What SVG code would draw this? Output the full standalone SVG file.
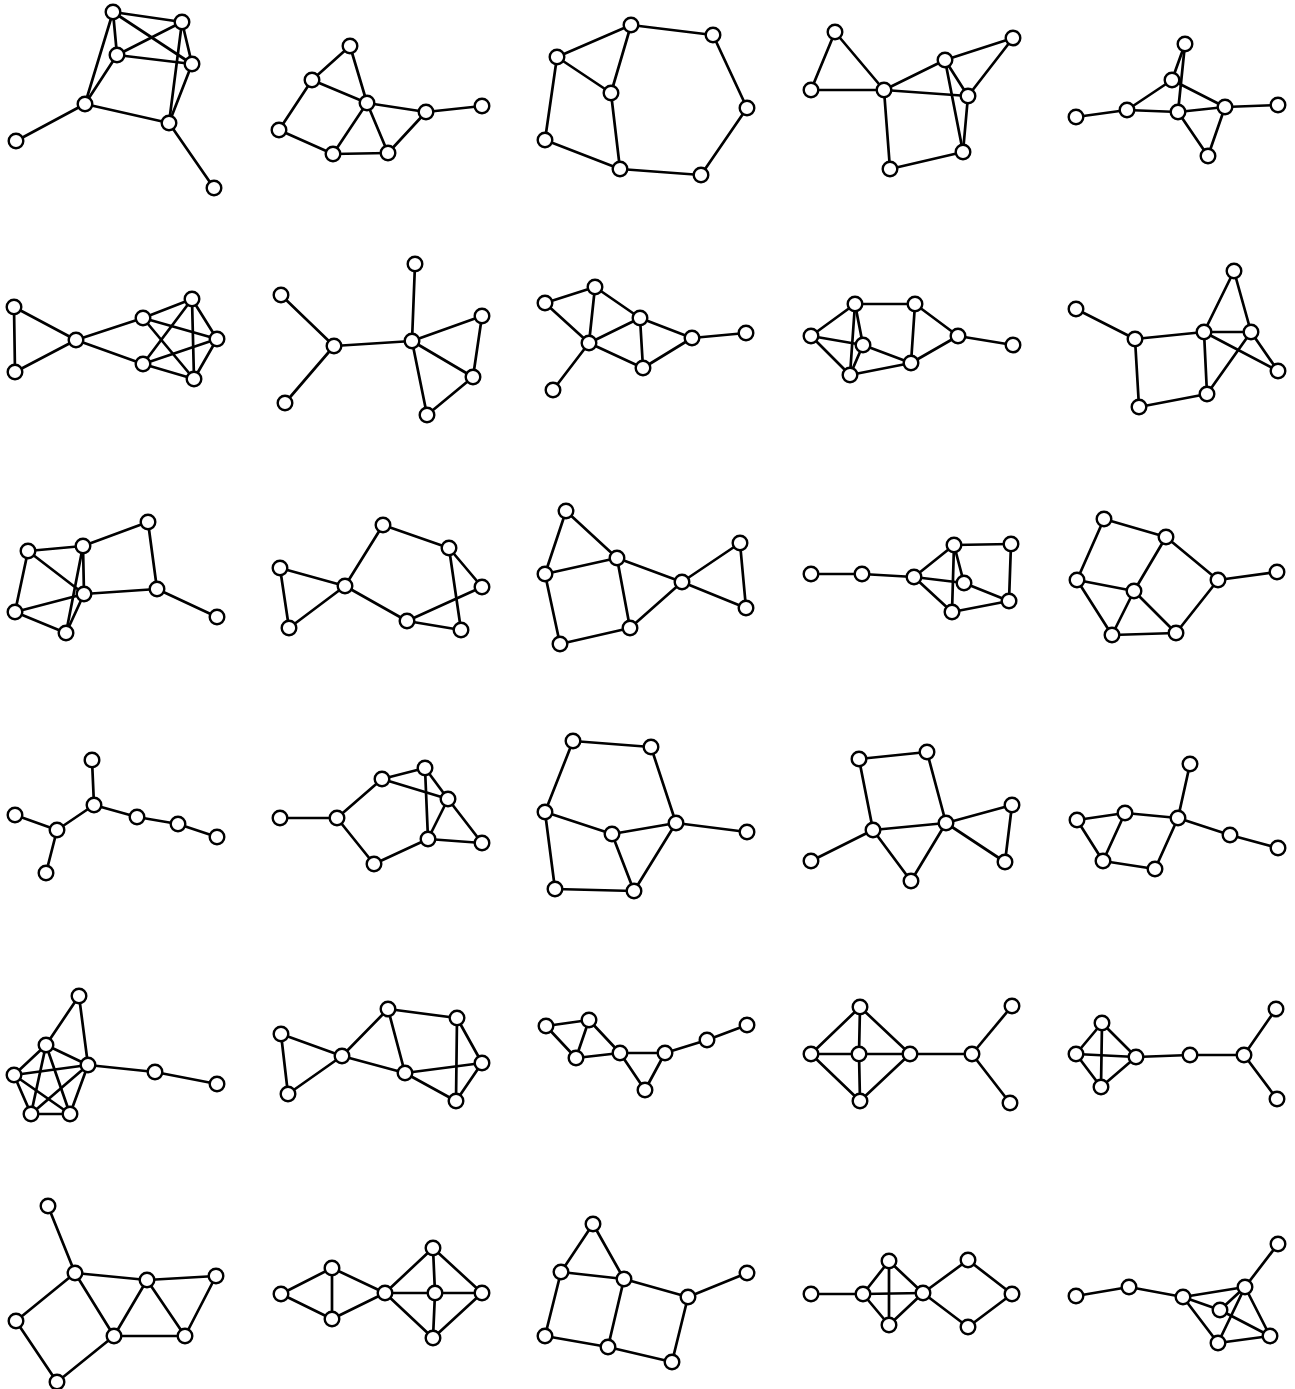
<svg xmlns="http://www.w3.org/2000/svg" width="1295" height="1389" viewBox="0 0 1295 1389">
<style>
.e line{stroke:#000;stroke-width:2.7;stroke-linecap:round}
circle{fill:#fff;stroke:#000;stroke-width:2.4}
</style>
<rect width="1295" height="1389" fill="#fff"/>
<g id="connectors" class="e">
<line x1="113" y1="12" x2="182" y2="22"/><line x1="113" y1="12" x2="117" y2="55"/><line x1="113" y1="12" x2="192" y2="64"/><line x1="113" y1="12" x2="85" y2="104"/><line x1="182" y1="22" x2="117" y2="55"/><line x1="182" y1="22" x2="192" y2="64"/><line x1="182" y1="22" x2="169" y2="123"/><line x1="117" y1="55" x2="192" y2="64"/><line x1="117" y1="55" x2="85" y2="104"/><line x1="85" y1="104" x2="169" y2="123"/><line x1="192" y1="64" x2="169" y2="123"/><line x1="85" y1="104" x2="16" y2="141"/><line x1="169" y1="123" x2="214" y2="188"/>
<line x1="350" y1="46" x2="312" y2="80"/><line x1="350" y1="46" x2="367" y2="103"/><line x1="312" y1="80" x2="367" y2="103"/><line x1="312" y1="80" x2="279" y2="130"/><line x1="279" y1="130" x2="333" y2="154"/><line x1="333" y1="154" x2="388" y2="153"/><line x1="333" y1="154" x2="367" y2="103"/><line x1="367" y1="103" x2="388" y2="153"/><line x1="367" y1="103" x2="426" y2="112"/><line x1="388" y1="153" x2="426" y2="112"/><line x1="426" y1="112" x2="482" y2="106"/>
<line x1="631" y1="25" x2="713" y2="35"/><line x1="631" y1="25" x2="557" y2="57"/><line x1="631" y1="25" x2="611" y2="93"/><line x1="557" y1="57" x2="611" y2="93"/><line x1="557" y1="57" x2="545" y2="140"/><line x1="545" y1="140" x2="620" y2="169"/><line x1="611" y1="93" x2="620" y2="169"/><line x1="620" y1="169" x2="701" y2="175"/><line x1="701" y1="175" x2="747" y2="108"/><line x1="747" y1="108" x2="713" y2="35"/>
<line x1="835" y1="32" x2="811" y2="90"/><line x1="835" y1="32" x2="884" y2="90"/><line x1="811" y1="90" x2="884" y2="90"/><line x1="884" y1="90" x2="945" y2="60"/><line x1="884" y1="90" x2="968" y2="96"/><line x1="945" y1="60" x2="1013" y2="38"/><line x1="1013" y1="38" x2="968" y2="96"/><line x1="945" y1="60" x2="968" y2="96"/><line x1="945" y1="60" x2="963" y2="152"/><line x1="968" y1="96" x2="963" y2="152"/><line x1="884" y1="90" x2="890" y2="169"/><line x1="890" y1="169" x2="963" y2="152"/>
<line x1="1076" y1="117" x2="1127" y2="110"/><line x1="1127" y1="110" x2="1172" y2="80"/><line x1="1127" y1="110" x2="1178" y2="112"/><line x1="1185" y1="44" x2="1172" y2="80"/><line x1="1185" y1="44" x2="1178" y2="112"/><line x1="1172" y1="80" x2="1225" y2="107"/><line x1="1178" y1="112" x2="1225" y2="107"/><line x1="1225" y1="107" x2="1278" y2="105"/><line x1="1178" y1="112" x2="1208" y2="156"/><line x1="1225" y1="107" x2="1208" y2="156"/>
<line x1="14" y1="307" x2="15" y2="372"/><line x1="14" y1="307" x2="76" y2="340"/><line x1="15" y1="372" x2="76" y2="340"/><line x1="76" y1="340" x2="143" y2="318"/><line x1="76" y1="340" x2="143" y2="364"/><line x1="143" y1="318" x2="192" y2="299"/><line x1="143" y1="318" x2="217" y2="339"/><line x1="143" y1="318" x2="194" y2="379"/><line x1="143" y1="364" x2="192" y2="299"/><line x1="143" y1="364" x2="217" y2="339"/><line x1="143" y1="364" x2="194" y2="379"/><line x1="192" y1="299" x2="217" y2="339"/><line x1="192" y1="299" x2="194" y2="379"/><line x1="217" y1="339" x2="194" y2="379"/>
<line x1="281" y1="295" x2="334" y2="346"/><line x1="334" y1="346" x2="285" y2="403"/><line x1="334" y1="346" x2="412" y2="341"/><line x1="415" y1="264" x2="412" y2="341"/><line x1="412" y1="341" x2="482" y2="316"/><line x1="482" y1="316" x2="473" y2="377"/><line x1="412" y1="341" x2="473" y2="377"/><line x1="412" y1="341" x2="427" y2="415"/><line x1="473" y1="377" x2="427" y2="415"/>
<line x1="545" y1="303" x2="595" y2="287"/><line x1="545" y1="303" x2="589" y2="343"/><line x1="595" y1="287" x2="589" y2="343"/><line x1="595" y1="287" x2="640" y2="318"/><line x1="589" y1="343" x2="640" y2="318"/><line x1="589" y1="343" x2="643" y2="368"/><line x1="640" y1="318" x2="643" y2="368"/><line x1="640" y1="318" x2="692" y2="338"/><line x1="643" y1="368" x2="692" y2="338"/><line x1="692" y1="338" x2="746" y2="333"/><line x1="589" y1="343" x2="553" y2="390"/>
<line x1="811" y1="336" x2="855" y2="304"/><line x1="811" y1="336" x2="863" y2="345"/><line x1="811" y1="336" x2="850" y2="375"/><line x1="855" y1="304" x2="915" y2="304"/><line x1="855" y1="304" x2="863" y2="345"/><line x1="855" y1="304" x2="850" y2="375"/><line x1="863" y1="345" x2="850" y2="375"/><line x1="863" y1="345" x2="911" y2="363"/><line x1="850" y1="375" x2="911" y2="363"/><line x1="915" y1="304" x2="911" y2="363"/><line x1="915" y1="304" x2="958" y2="336"/><line x1="911" y1="363" x2="958" y2="336"/><line x1="958" y1="336" x2="1013" y2="345"/>
<line x1="1076" y1="309" x2="1135" y2="339"/><line x1="1135" y1="339" x2="1204" y2="332"/><line x1="1135" y1="339" x2="1139" y2="407"/><line x1="1139" y1="407" x2="1207" y2="394"/><line x1="1204" y1="332" x2="1207" y2="394"/><line x1="1204" y1="332" x2="1234" y2="271"/><line x1="1234" y1="271" x2="1251" y2="332"/><line x1="1204" y1="332" x2="1251" y2="332"/><line x1="1204" y1="332" x2="1278" y2="371"/><line x1="1251" y1="332" x2="1278" y2="371"/><line x1="1251" y1="332" x2="1207" y2="394"/>
<line x1="28" y1="551" x2="83" y2="546"/><line x1="28" y1="551" x2="15" y2="612"/><line x1="28" y1="551" x2="84" y2="594"/><line x1="15" y1="612" x2="84" y2="594"/><line x1="15" y1="612" x2="66" y2="633"/><line x1="83" y1="546" x2="148" y2="522"/><line x1="148" y1="522" x2="157" y2="589"/><line x1="84" y1="594" x2="157" y2="589"/><line x1="157" y1="589" x2="217" y2="617"/><line x1="83" y1="546" x2="84" y2="594"/><line x1="83" y1="546" x2="66" y2="633"/><line x1="84" y1="594" x2="66" y2="633"/>
<line x1="280" y1="568" x2="289" y2="628"/><line x1="280" y1="568" x2="345" y2="586"/><line x1="289" y1="628" x2="345" y2="586"/><line x1="345" y1="586" x2="383" y2="525"/><line x1="383" y1="525" x2="449" y2="548"/><line x1="449" y1="548" x2="482" y2="587"/><line x1="449" y1="548" x2="461" y2="630"/><line x1="345" y1="586" x2="407" y2="621"/><line x1="407" y1="621" x2="482" y2="587"/><line x1="407" y1="621" x2="461" y2="630"/>
<line x1="566" y1="511" x2="545" y2="574"/><line x1="566" y1="511" x2="617" y2="558"/><line x1="545" y1="574" x2="617" y2="558"/><line x1="545" y1="574" x2="560" y2="644"/><line x1="560" y1="644" x2="630" y2="628"/><line x1="617" y1="558" x2="630" y2="628"/><line x1="617" y1="558" x2="682" y2="582"/><line x1="630" y1="628" x2="682" y2="582"/><line x1="682" y1="582" x2="740" y2="543"/><line x1="682" y1="582" x2="746" y2="608"/><line x1="740" y1="543" x2="746" y2="608"/>
<line x1="811" y1="574" x2="862" y2="574"/><line x1="862" y1="574" x2="914" y2="577"/><line x1="914" y1="577" x2="954" y2="545"/><line x1="914" y1="577" x2="964" y2="583"/><line x1="914" y1="577" x2="952" y2="612"/><line x1="954" y1="545" x2="1011" y2="544"/><line x1="954" y1="545" x2="952" y2="612"/><line x1="954" y1="545" x2="964" y2="583"/><line x1="1011" y1="544" x2="1009" y2="601"/><line x1="964" y1="583" x2="1009" y2="601"/><line x1="952" y1="612" x2="1009" y2="601"/>
<line x1="1104" y1="519" x2="1166" y2="537"/><line x1="1104" y1="519" x2="1077" y2="580"/><line x1="1077" y1="580" x2="1134" y2="591"/><line x1="1077" y1="580" x2="1112" y2="635"/><line x1="1166" y1="537" x2="1134" y2="591"/><line x1="1166" y1="537" x2="1218" y2="580"/><line x1="1134" y1="591" x2="1112" y2="635"/><line x1="1134" y1="591" x2="1176" y2="633"/><line x1="1112" y1="635" x2="1176" y2="633"/><line x1="1176" y1="633" x2="1218" y2="580"/><line x1="1218" y1="580" x2="1277" y2="572"/>
<line x1="92" y1="760" x2="94" y2="805"/><line x1="15" y1="815" x2="57" y2="830"/><line x1="94" y1="805" x2="57" y2="830"/><line x1="57" y1="830" x2="46" y2="873"/><line x1="94" y1="805" x2="137" y2="817"/><line x1="137" y1="817" x2="178" y2="824"/><line x1="178" y1="824" x2="217" y2="837"/>
<line x1="280" y1="818" x2="337" y2="818"/><line x1="337" y1="818" x2="382" y2="779"/><line x1="337" y1="818" x2="374" y2="864"/><line x1="382" y1="779" x2="425" y2="768"/><line x1="382" y1="779" x2="448" y2="799"/><line x1="425" y1="768" x2="448" y2="799"/><line x1="425" y1="768" x2="428" y2="839"/><line x1="448" y1="799" x2="428" y2="839"/><line x1="448" y1="799" x2="482" y2="843"/><line x1="428" y1="839" x2="482" y2="843"/><line x1="374" y1="864" x2="428" y2="839"/>
<line x1="573" y1="741" x2="651" y2="747"/><line x1="573" y1="741" x2="545" y2="812"/><line x1="651" y1="747" x2="676" y2="823"/><line x1="545" y1="812" x2="612" y2="834"/><line x1="612" y1="834" x2="676" y2="823"/><line x1="676" y1="823" x2="747" y2="832"/><line x1="545" y1="812" x2="555" y2="889"/><line x1="555" y1="889" x2="634" y2="891"/><line x1="612" y1="834" x2="634" y2="891"/><line x1="676" y1="823" x2="634" y2="891"/>
<line x1="859" y1="759" x2="927" y2="752"/><line x1="859" y1="759" x2="873" y2="830"/><line x1="927" y1="752" x2="946" y2="823"/><line x1="873" y1="830" x2="946" y2="823"/><line x1="873" y1="830" x2="811" y2="861"/><line x1="873" y1="830" x2="911" y2="881"/><line x1="946" y1="823" x2="911" y2="881"/><line x1="946" y1="823" x2="1012" y2="805"/><line x1="1012" y1="805" x2="1005" y2="862"/><line x1="946" y1="823" x2="1005" y2="862"/>
<line x1="1190" y1="764" x2="1178" y2="818"/><line x1="1077" y1="820" x2="1125" y2="813"/><line x1="1125" y1="813" x2="1178" y2="818"/><line x1="1077" y1="820" x2="1103" y2="861"/><line x1="1125" y1="813" x2="1103" y2="861"/><line x1="1103" y1="861" x2="1155" y2="869"/><line x1="1155" y1="869" x2="1178" y2="818"/><line x1="1178" y1="818" x2="1230" y2="835"/><line x1="1230" y1="835" x2="1278" y2="848"/>
<line x1="79" y1="996" x2="46" y2="1045"/><line x1="79" y1="996" x2="88" y2="1065"/><line x1="46" y1="1045" x2="88" y2="1065"/><line x1="46" y1="1045" x2="14" y2="1075"/><line x1="46" y1="1045" x2="31" y2="1114"/><line x1="46" y1="1045" x2="70" y2="1114"/><line x1="88" y1="1065" x2="14" y2="1075"/><line x1="88" y1="1065" x2="31" y2="1114"/><line x1="88" y1="1065" x2="70" y2="1114"/><line x1="14" y1="1075" x2="31" y2="1114"/><line x1="14" y1="1075" x2="70" y2="1114"/><line x1="31" y1="1114" x2="70" y2="1114"/><line x1="88" y1="1065" x2="155" y2="1072"/><line x1="155" y1="1072" x2="217" y2="1084"/>
<line x1="281" y1="1034" x2="288" y2="1094"/><line x1="281" y1="1034" x2="342" y2="1056"/><line x1="288" y1="1094" x2="342" y2="1056"/><line x1="342" y1="1056" x2="388" y2="1009"/><line x1="388" y1="1009" x2="457" y2="1018"/><line x1="388" y1="1009" x2="405" y2="1073"/><line x1="342" y1="1056" x2="405" y2="1073"/><line x1="457" y1="1018" x2="482" y2="1063"/><line x1="457" y1="1018" x2="456" y2="1101"/><line x1="405" y1="1073" x2="482" y2="1063"/><line x1="405" y1="1073" x2="456" y2="1101"/><line x1="482" y1="1063" x2="456" y2="1101"/>
<line x1="546" y1="1026" x2="589" y2="1020"/><line x1="546" y1="1026" x2="576" y2="1058"/><line x1="589" y1="1020" x2="576" y2="1058"/><line x1="589" y1="1020" x2="620" y2="1053"/><line x1="576" y1="1058" x2="620" y2="1053"/><line x1="620" y1="1053" x2="665" y2="1053"/><line x1="620" y1="1053" x2="645" y2="1090"/><line x1="665" y1="1053" x2="645" y2="1090"/><line x1="665" y1="1053" x2="707" y2="1040"/><line x1="707" y1="1040" x2="747" y2="1025"/>
<line x1="860" y1="1007" x2="811" y2="1054"/><line x1="860" y1="1007" x2="859" y2="1054"/><line x1="860" y1="1007" x2="910" y2="1054"/><line x1="811" y1="1054" x2="859" y2="1054"/><line x1="859" y1="1054" x2="910" y2="1054"/><line x1="811" y1="1054" x2="860" y2="1101"/><line x1="859" y1="1054" x2="860" y2="1101"/><line x1="910" y1="1054" x2="860" y2="1101"/><line x1="910" y1="1054" x2="972" y2="1054"/><line x1="972" y1="1054" x2="1012" y2="1006"/><line x1="972" y1="1054" x2="1010" y2="1103"/>
<line x1="1102" y1="1023" x2="1076" y2="1054"/><line x1="1102" y1="1023" x2="1136" y2="1057"/><line x1="1102" y1="1023" x2="1101" y2="1087"/><line x1="1076" y1="1054" x2="1136" y2="1057"/><line x1="1076" y1="1054" x2="1101" y2="1087"/><line x1="1136" y1="1057" x2="1101" y2="1087"/><line x1="1136" y1="1057" x2="1190" y2="1055"/><line x1="1190" y1="1055" x2="1244" y2="1055"/><line x1="1244" y1="1055" x2="1276" y2="1009"/><line x1="1244" y1="1055" x2="1277" y2="1099"/>
<line x1="48" y1="1206" x2="75" y2="1273"/><line x1="75" y1="1273" x2="147" y2="1280"/><line x1="147" y1="1280" x2="216" y2="1276"/><line x1="75" y1="1273" x2="16" y2="1321"/><line x1="16" y1="1321" x2="57" y2="1382"/><line x1="57" y1="1382" x2="114" y2="1336"/><line x1="75" y1="1273" x2="114" y2="1336"/><line x1="147" y1="1280" x2="114" y2="1336"/><line x1="147" y1="1280" x2="185" y2="1336"/><line x1="114" y1="1336" x2="185" y2="1336"/><line x1="185" y1="1336" x2="216" y2="1276"/>
<line x1="281" y1="1294" x2="332" y2="1268"/><line x1="281" y1="1294" x2="332" y2="1319"/><line x1="332" y1="1268" x2="332" y2="1319"/><line x1="332" y1="1268" x2="385" y2="1293"/><line x1="332" y1="1319" x2="385" y2="1293"/><line x1="385" y1="1293" x2="433" y2="1248"/><line x1="385" y1="1293" x2="435" y2="1293"/><line x1="385" y1="1293" x2="433" y2="1338"/><line x1="433" y1="1248" x2="435" y2="1293"/><line x1="435" y1="1293" x2="433" y2="1338"/><line x1="433" y1="1248" x2="482" y2="1293"/><line x1="435" y1="1293" x2="482" y2="1293"/><line x1="482" y1="1293" x2="433" y2="1338"/>
<line x1="593" y1="1224" x2="561" y2="1272"/><line x1="593" y1="1224" x2="624" y2="1279"/><line x1="561" y1="1272" x2="624" y2="1279"/><line x1="561" y1="1272" x2="545" y2="1336"/><line x1="545" y1="1336" x2="608" y2="1347"/><line x1="624" y1="1279" x2="608" y2="1347"/><line x1="624" y1="1279" x2="688" y2="1297"/><line x1="688" y1="1297" x2="747" y2="1273"/><line x1="688" y1="1297" x2="672" y2="1362"/><line x1="608" y1="1347" x2="672" y2="1362"/>
<line x1="811" y1="1294" x2="863" y2="1294"/><line x1="863" y1="1294" x2="889" y2="1261"/><line x1="863" y1="1294" x2="889" y2="1325"/><line x1="863" y1="1294" x2="923" y2="1293"/><line x1="889" y1="1261" x2="889" y2="1325"/><line x1="889" y1="1261" x2="923" y2="1293"/><line x1="889" y1="1325" x2="923" y2="1293"/><line x1="923" y1="1293" x2="968" y2="1260"/><line x1="923" y1="1293" x2="968" y2="1327"/><line x1="968" y1="1260" x2="1012" y2="1294"/><line x1="1012" y1="1294" x2="968" y2="1327"/>
<line x1="1076" y1="1296" x2="1129" y2="1287"/><line x1="1129" y1="1287" x2="1183" y2="1297"/><line x1="1183" y1="1297" x2="1245" y2="1287"/><line x1="1183" y1="1297" x2="1220" y2="1310"/><line x1="1183" y1="1297" x2="1218" y2="1343"/><line x1="1245" y1="1287" x2="1278" y2="1244"/><line x1="1245" y1="1287" x2="1220" y2="1310"/><line x1="1245" y1="1287" x2="1218" y2="1343"/><line x1="1245" y1="1287" x2="1270" y2="1336"/><line x1="1220" y1="1310" x2="1270" y2="1336"/><line x1="1218" y1="1343" x2="1270" y2="1336"/>
</g>
<g id="nodes">
<g id="n1a"><circle cx="113" cy="12" r="7.3"/></g><g id="n1b"><circle cx="182" cy="22" r="7.3"/></g><g id="n1c"><circle cx="117" cy="55" r="7.3"/></g><g id="n1d"><circle cx="192" cy="64" r="7.3"/></g><g id="n1e"><circle cx="85" cy="104" r="7.3"/></g><g id="n1f"><circle cx="169" cy="123" r="7.3"/></g><g id="n1g"><circle cx="16" cy="141" r="7.3"/></g><g id="n1h"><circle cx="214" cy="188" r="7.3"/></g>
<g id="n2a"><circle cx="350" cy="46" r="7.3"/></g><g id="n2b"><circle cx="312" cy="80" r="7.3"/></g><g id="n2c"><circle cx="367" cy="103" r="7.3"/></g><g id="n2d"><circle cx="426" cy="112" r="7.3"/></g><g id="n2e"><circle cx="482" cy="106" r="7.3"/></g><g id="n2f"><circle cx="279" cy="130" r="7.3"/></g><g id="n2g"><circle cx="333" cy="154" r="7.3"/></g><g id="n2h"><circle cx="388" cy="153" r="7.3"/></g>
<g id="n3a"><circle cx="631" cy="25" r="7.3"/></g><g id="n3b"><circle cx="713" cy="35" r="7.3"/></g><g id="n3c"><circle cx="557" cy="57" r="7.3"/></g><g id="n3d"><circle cx="611" cy="93" r="7.3"/></g><g id="n3e"><circle cx="747" cy="108" r="7.3"/></g><g id="n3f"><circle cx="545" cy="140" r="7.3"/></g><g id="n3g"><circle cx="620" cy="169" r="7.3"/></g><g id="n3h"><circle cx="701" cy="175" r="7.3"/></g>
<g id="n4a"><circle cx="835" cy="32" r="7.3"/></g><g id="n4b"><circle cx="811" cy="90" r="7.3"/></g><g id="n4c"><circle cx="884" cy="90" r="7.3"/></g><g id="n4d"><circle cx="945" cy="60" r="7.3"/></g><g id="n4e"><circle cx="1013" cy="38" r="7.3"/></g><g id="n4f"><circle cx="968" cy="96" r="7.3"/></g><g id="n4g"><circle cx="890" cy="169" r="7.3"/></g><g id="n4h"><circle cx="963" cy="152" r="7.3"/></g>
<g id="n5a"><circle cx="1185" cy="44" r="7.3"/></g><g id="n5b"><circle cx="1172" cy="80" r="7.3"/></g><g id="n5c"><circle cx="1127" cy="110" r="7.3"/></g><g id="n5d"><circle cx="1178" cy="112" r="7.3"/></g><g id="n5e"><circle cx="1225" cy="107" r="7.3"/></g><g id="n5f"><circle cx="1278" cy="105" r="7.3"/></g><g id="n5g"><circle cx="1076" cy="117" r="7.3"/></g><g id="n5h"><circle cx="1208" cy="156" r="7.3"/></g>
<g id="n6a"><circle cx="14" cy="307" r="7.3"/></g><g id="n6b"><circle cx="15" cy="372" r="7.3"/></g><g id="n6c"><circle cx="76" cy="340" r="7.3"/></g><g id="n6d"><circle cx="143" cy="318" r="7.3"/></g><g id="n6e"><circle cx="143" cy="364" r="7.3"/></g><g id="n6f"><circle cx="192" cy="299" r="7.3"/></g><g id="n6g"><circle cx="217" cy="339" r="7.3"/></g><g id="n6h"><circle cx="194" cy="379" r="7.3"/></g>
<g id="n7a"><circle cx="281" cy="295" r="7.3"/></g><g id="n7b"><circle cx="334" cy="346" r="7.3"/></g><g id="n7c"><circle cx="285" cy="403" r="7.3"/></g><g id="n7d"><circle cx="415" cy="264" r="7.3"/></g><g id="n7e"><circle cx="412" cy="341" r="7.3"/></g><g id="n7f"><circle cx="482" cy="316" r="7.3"/></g><g id="n7g"><circle cx="473" cy="377" r="7.3"/></g><g id="n7h"><circle cx="427" cy="415" r="7.3"/></g>
<g id="n8a"><circle cx="545" cy="303" r="7.3"/></g><g id="n8b"><circle cx="595" cy="287" r="7.3"/></g><g id="n8c"><circle cx="589" cy="343" r="7.3"/></g><g id="n8d"><circle cx="640" cy="318" r="7.3"/></g><g id="n8e"><circle cx="692" cy="338" r="7.3"/></g><g id="n8f"><circle cx="746" cy="333" r="7.3"/></g><g id="n8g"><circle cx="643" cy="368" r="7.3"/></g><g id="n8h"><circle cx="553" cy="390" r="7.3"/></g>
<g id="n9a"><circle cx="811" cy="336" r="7.3"/></g><g id="n9b"><circle cx="855" cy="304" r="7.3"/></g><g id="n9c"><circle cx="915" cy="304" r="7.3"/></g><g id="n9d"><circle cx="863" cy="345" r="7.3"/></g><g id="n9e"><circle cx="958" cy="336" r="7.3"/></g><g id="n9f"><circle cx="1013" cy="345" r="7.3"/></g><g id="n9g"><circle cx="850" cy="375" r="7.3"/></g><g id="n9h"><circle cx="911" cy="363" r="7.3"/></g>
<g id="n10a"><circle cx="1076" cy="309" r="7.3"/></g><g id="n10b"><circle cx="1135" cy="339" r="7.3"/></g><g id="n10c"><circle cx="1204" cy="332" r="7.3"/></g><g id="n10d"><circle cx="1234" cy="271" r="7.3"/></g><g id="n10e"><circle cx="1251" cy="332" r="7.3"/></g><g id="n10f"><circle cx="1278" cy="371" r="7.3"/></g><g id="n10g"><circle cx="1207" cy="394" r="7.3"/></g><g id="n10h"><circle cx="1139" cy="407" r="7.3"/></g>
<g id="n11a"><circle cx="28" cy="551" r="7.3"/></g><g id="n11b"><circle cx="83" cy="546" r="7.3"/></g><g id="n11c"><circle cx="148" cy="522" r="7.3"/></g><g id="n11d"><circle cx="84" cy="594" r="7.3"/></g><g id="n11e"><circle cx="157" cy="589" r="7.3"/></g><g id="n11f"><circle cx="15" cy="612" r="7.3"/></g><g id="n11g"><circle cx="66" cy="633" r="7.3"/></g><g id="n11h"><circle cx="217" cy="617" r="7.3"/></g>
<g id="n12a"><circle cx="280" cy="568" r="7.3"/></g><g id="n12b"><circle cx="289" cy="628" r="7.3"/></g><g id="n12c"><circle cx="345" cy="586" r="7.3"/></g><g id="n12d"><circle cx="383" cy="525" r="7.3"/></g><g id="n12e"><circle cx="449" cy="548" r="7.3"/></g><g id="n12f"><circle cx="482" cy="587" r="7.3"/></g><g id="n12g"><circle cx="407" cy="621" r="7.3"/></g><g id="n12h"><circle cx="461" cy="630" r="7.3"/></g>
<g id="n13a"><circle cx="566" cy="511" r="7.3"/></g><g id="n13b"><circle cx="545" cy="574" r="7.3"/></g><g id="n13c"><circle cx="617" cy="558" r="7.3"/></g><g id="n13d"><circle cx="682" cy="582" r="7.3"/></g><g id="n13e"><circle cx="740" cy="543" r="7.3"/></g><g id="n13f"><circle cx="746" cy="608" r="7.3"/></g><g id="n13g"><circle cx="560" cy="644" r="7.3"/></g><g id="n13h"><circle cx="630" cy="628" r="7.3"/></g>
<g id="n14a"><circle cx="811" cy="574" r="7.3"/></g><g id="n14b"><circle cx="862" cy="574" r="7.3"/></g><g id="n14c"><circle cx="914" cy="577" r="7.3"/></g><g id="n14d"><circle cx="954" cy="545" r="7.3"/></g><g id="n14e"><circle cx="1011" cy="544" r="7.3"/></g><g id="n14f"><circle cx="964" cy="583" r="7.3"/></g><g id="n14g"><circle cx="1009" cy="601" r="7.3"/></g><g id="n14h"><circle cx="952" cy="612" r="7.3"/></g>
<g id="n15a"><circle cx="1104" cy="519" r="7.3"/></g><g id="n15b"><circle cx="1166" cy="537" r="7.3"/></g><g id="n15c"><circle cx="1077" cy="580" r="7.3"/></g><g id="n15d"><circle cx="1134" cy="591" r="7.3"/></g><g id="n15e"><circle cx="1218" cy="580" r="7.3"/></g><g id="n15f"><circle cx="1277" cy="572" r="7.3"/></g><g id="n15g"><circle cx="1112" cy="635" r="7.3"/></g><g id="n15h"><circle cx="1176" cy="633" r="7.3"/></g>
<g id="n16a"><circle cx="92" cy="760" r="7.3"/></g><g id="n16b"><circle cx="15" cy="815" r="7.3"/></g><g id="n16c"><circle cx="94" cy="805" r="7.3"/></g><g id="n16d"><circle cx="57" cy="830" r="7.3"/></g><g id="n16e"><circle cx="137" cy="817" r="7.3"/></g><g id="n16f"><circle cx="178" cy="824" r="7.3"/></g><g id="n16g"><circle cx="217" cy="837" r="7.3"/></g><g id="n16h"><circle cx="46" cy="873" r="7.3"/></g>
<g id="n17a"><circle cx="280" cy="818" r="7.3"/></g><g id="n17b"><circle cx="337" cy="818" r="7.3"/></g><g id="n17c"><circle cx="382" cy="779" r="7.3"/></g><g id="n17d"><circle cx="425" cy="768" r="7.3"/></g><g id="n17e"><circle cx="448" cy="799" r="7.3"/></g><g id="n17f"><circle cx="428" cy="839" r="7.3"/></g><g id="n17g"><circle cx="482" cy="843" r="7.3"/></g><g id="n17h"><circle cx="374" cy="864" r="7.3"/></g>
<g id="n18a"><circle cx="573" cy="741" r="7.3"/></g><g id="n18b"><circle cx="651" cy="747" r="7.3"/></g><g id="n18c"><circle cx="545" cy="812" r="7.3"/></g><g id="n18d"><circle cx="612" cy="834" r="7.3"/></g><g id="n18e"><circle cx="676" cy="823" r="7.3"/></g><g id="n18f"><circle cx="747" cy="832" r="7.3"/></g><g id="n18g"><circle cx="555" cy="889" r="7.3"/></g><g id="n18h"><circle cx="634" cy="891" r="7.3"/></g>
<g id="n19a"><circle cx="859" cy="759" r="7.3"/></g><g id="n19b"><circle cx="927" cy="752" r="7.3"/></g><g id="n19c"><circle cx="873" cy="830" r="7.3"/></g><g id="n19d"><circle cx="946" cy="823" r="7.3"/></g><g id="n19e"><circle cx="1012" cy="805" r="7.3"/></g><g id="n19f"><circle cx="1005" cy="862" r="7.3"/></g><g id="n19g"><circle cx="811" cy="861" r="7.3"/></g><g id="n19h"><circle cx="911" cy="881" r="7.3"/></g>
<g id="n20a"><circle cx="1190" cy="764" r="7.3"/></g><g id="n20b"><circle cx="1077" cy="820" r="7.3"/></g><g id="n20c"><circle cx="1125" cy="813" r="7.3"/></g><g id="n20d"><circle cx="1178" cy="818" r="7.3"/></g><g id="n20e"><circle cx="1230" cy="835" r="7.3"/></g><g id="n20f"><circle cx="1278" cy="848" r="7.3"/></g><g id="n20g"><circle cx="1103" cy="861" r="7.3"/></g><g id="n20h"><circle cx="1155" cy="869" r="7.3"/></g>
<g id="n21a"><circle cx="79" cy="996" r="7.3"/></g><g id="n21b"><circle cx="46" cy="1045" r="7.3"/></g><g id="n21c"><circle cx="88" cy="1065" r="7.3"/></g><g id="n21d"><circle cx="14" cy="1075" r="7.3"/></g><g id="n21e"><circle cx="31" cy="1114" r="7.3"/></g><g id="n21f"><circle cx="70" cy="1114" r="7.3"/></g><g id="n21g"><circle cx="155" cy="1072" r="7.3"/></g><g id="n21h"><circle cx="217" cy="1084" r="7.3"/></g>
<g id="n22a"><circle cx="281" cy="1034" r="7.3"/></g><g id="n22b"><circle cx="288" cy="1094" r="7.3"/></g><g id="n22c"><circle cx="342" cy="1056" r="7.3"/></g><g id="n22d"><circle cx="388" cy="1009" r="7.3"/></g><g id="n22e"><circle cx="457" cy="1018" r="7.3"/></g><g id="n22f"><circle cx="482" cy="1063" r="7.3"/></g><g id="n22g"><circle cx="405" cy="1073" r="7.3"/></g><g id="n22h"><circle cx="456" cy="1101" r="7.3"/></g>
<g id="n23a"><circle cx="546" cy="1026" r="7.3"/></g><g id="n23b"><circle cx="589" cy="1020" r="7.3"/></g><g id="n23c"><circle cx="576" cy="1058" r="7.3"/></g><g id="n23d"><circle cx="620" cy="1053" r="7.3"/></g><g id="n23e"><circle cx="665" cy="1053" r="7.3"/></g><g id="n23f"><circle cx="645" cy="1090" r="7.3"/></g><g id="n23g"><circle cx="707" cy="1040" r="7.3"/></g><g id="n23h"><circle cx="747" cy="1025" r="7.3"/></g>
<g id="n24a"><circle cx="860" cy="1007" r="7.3"/></g><g id="n24b"><circle cx="811" cy="1054" r="7.3"/></g><g id="n24c"><circle cx="859" cy="1054" r="7.3"/></g><g id="n24d"><circle cx="910" cy="1054" r="7.3"/></g><g id="n24e"><circle cx="860" cy="1101" r="7.3"/></g><g id="n24f"><circle cx="972" cy="1054" r="7.3"/></g><g id="n24g"><circle cx="1012" cy="1006" r="7.3"/></g><g id="n24h"><circle cx="1010" cy="1103" r="7.3"/></g>
<g id="n25a"><circle cx="1102" cy="1023" r="7.3"/></g><g id="n25b"><circle cx="1076" cy="1054" r="7.3"/></g><g id="n25c"><circle cx="1136" cy="1057" r="7.3"/></g><g id="n25d"><circle cx="1101" cy="1087" r="7.3"/></g><g id="n25e"><circle cx="1190" cy="1055" r="7.3"/></g><g id="n25f"><circle cx="1244" cy="1055" r="7.3"/></g><g id="n25g"><circle cx="1276" cy="1009" r="7.3"/></g><g id="n25h"><circle cx="1277" cy="1099" r="7.3"/></g>
<g id="n26a"><circle cx="48" cy="1206" r="7.3"/></g><g id="n26b"><circle cx="75" cy="1273" r="7.3"/></g><g id="n26c"><circle cx="147" cy="1280" r="7.3"/></g><g id="n26d"><circle cx="216" cy="1276" r="7.3"/></g><g id="n26e"><circle cx="16" cy="1321" r="7.3"/></g><g id="n26f"><circle cx="114" cy="1336" r="7.3"/></g><g id="n26g"><circle cx="185" cy="1336" r="7.3"/></g><g id="n26h"><circle cx="57" cy="1382" r="7.3"/></g>
<g id="n27a"><circle cx="281" cy="1294" r="7.3"/></g><g id="n27b"><circle cx="332" cy="1268" r="7.3"/></g><g id="n27c"><circle cx="332" cy="1319" r="7.3"/></g><g id="n27d"><circle cx="385" cy="1293" r="7.3"/></g><g id="n27e"><circle cx="433" cy="1248" r="7.3"/></g><g id="n27f"><circle cx="435" cy="1293" r="7.3"/></g><g id="n27g"><circle cx="482" cy="1293" r="7.3"/></g><g id="n27h"><circle cx="433" cy="1338" r="7.3"/></g>
<g id="n28a"><circle cx="593" cy="1224" r="7.3"/></g><g id="n28b"><circle cx="561" cy="1272" r="7.3"/></g><g id="n28c"><circle cx="624" cy="1279" r="7.3"/></g><g id="n28d"><circle cx="688" cy="1297" r="7.3"/></g><g id="n28e"><circle cx="747" cy="1273" r="7.3"/></g><g id="n28f"><circle cx="545" cy="1336" r="7.3"/></g><g id="n28g"><circle cx="608" cy="1347" r="7.3"/></g><g id="n28h"><circle cx="672" cy="1362" r="7.3"/></g>
<g id="n29a"><circle cx="811" cy="1294" r="7.3"/></g><g id="n29b"><circle cx="863" cy="1294" r="7.3"/></g><g id="n29c"><circle cx="889" cy="1261" r="7.3"/></g><g id="n29d"><circle cx="889" cy="1325" r="7.3"/></g><g id="n29e"><circle cx="923" cy="1293" r="7.3"/></g><g id="n29f"><circle cx="968" cy="1260" r="7.3"/></g><g id="n29g"><circle cx="1012" cy="1294" r="7.3"/></g><g id="n29h"><circle cx="968" cy="1327" r="7.3"/></g>
<g id="n30a"><circle cx="1076" cy="1296" r="7.3"/></g><g id="n30b"><circle cx="1129" cy="1287" r="7.3"/></g><g id="n30c"><circle cx="1183" cy="1297" r="7.3"/></g><g id="n30d"><circle cx="1245" cy="1287" r="7.3"/></g><g id="n30e"><circle cx="1278" cy="1244" r="7.3"/></g><g id="n30f"><circle cx="1220" cy="1310" r="7.3"/></g><g id="n30g"><circle cx="1218" cy="1343" r="7.3"/></g><g id="n30h"><circle cx="1270" cy="1336" r="7.3"/></g>
</g>
</svg>
